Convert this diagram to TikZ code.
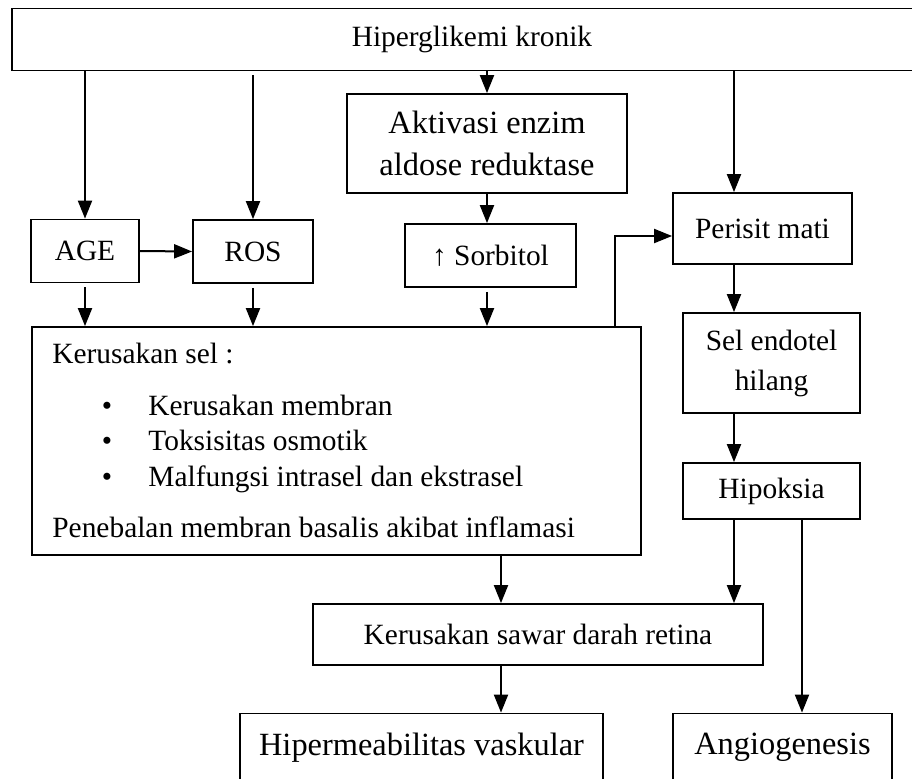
\documentclass[tikz,border=0pt]{standalone}
\usepackage{fontspec}
\setmainfont{Liberation Serif}
\usetikzlibrary{arrows.meta,positioning,calc}
\newcommand{\normaltxt}{\fontsize{14.7pt}{20pt}\selectfont}
\newcommand{\bigtxtfont}{\fontsize{16.2pt}{21pt}\selectfont}
\tikzset{
  box/.style={draw,line width=0.9pt,align=center,font=\normaltxt,inner sep=2pt},
  bigbox/.style={box,font=\bigtxtfont},
  flow/.style={-{Triangle[length=9pt,width=7pt]},line width=1pt},
  txt/.style={font=\normaltxt,inner sep=0pt,anchor=base west}
}

\begin{document}
\begin{tikzpicture}[x=0.5pt,y=-0.5pt]
\useasboundingbox (0,0) rectangle (912,778);
\clip (0,0) rectangle (912,778);

% boxes
\node[box,minimum width=460pt,minimum height=31pt] (hiper) at (472,39.5) {Hiperglikemi kronik};
\node[bigbox,minimum width=140pt,minimum height=49.5pt] (aktivasi) at (487,143.5) {Aktivasi enzim\\aldose reduktase};
\node[box,minimum width=54pt,minimum height=31.5pt] (age) at (85,251) {AGE};
\node[box,minimum width=60pt,minimum height=31.5pt] (ros) at (253,251.5) {ROS};
\node[box,minimum width=85.5pt,minimum height=31.5pt] (sorbitol) at (490.5,255.5) {↑ Sorbitol};
\node[box,minimum width=89.5pt,minimum height=35.5pt] (perisit) at (762.5,228.5) {Perisit mati};
\node[box,minimum width=304.5pt,minimum height=114pt] (kerusakan) at (336.5,441) {};
\node[box,minimum width=88.5pt,minimum height=50pt] (endotel) at (771.5,363) {Sel endotel\\hilang};
\node[box,minimum width=88.5pt,minimum height=28pt] (hipoksia) at (771.5,491) {Hipoksia};
\node[box,minimum width=225pt,minimum height=30.5pt] (sawar) at (538,634.5) {Kerusakan sawar darah retina};
\node[bigbox,minimum width=181.5pt,minimum height=34pt] (hiperm) at (421.5,747.5) {Hipermeabilitas vaskular};
\node[bigbox,minimum width=109.5pt,minimum height=34pt] (angio) at (782.5,747.5) {Angiogenesis};

% text inside the cell damage box
\node[txt] (selhead) at (52,363) {Kerusakan sel :};
\foreach \i/\yy/\t in {1/415/Kerusakan membran,2/450/Toksisitas osmotik,3/486/Malfungsi intrasel dan ekstrasel}{
  \node[txt,anchor=base] (bul\i) at (107,\yy) {\textbullet};
  \node[txt] (item\i) at (148,\yy) {\t};
}
\node[txt] (penebalan) at (52,537) {Penebalan membran basalis akibat inflamasi};

% columns
\coordinate (colB) at (501,0);
\coordinate (colD) at (734,0);
\coordinate (colE) at (802,0);
\coordinate (elbowstart) at (557,327);
\coordinate (elbowturn) at (615,236);

% arrows
\draw[flow] (hiper.south -| age) -- (age.north);
\draw[flow,shorten <=2pt] (hiper.south -| ros) -- (ros.north);
\draw[flow] (hiper.south -| aktivasi) -- (aktivasi.north);
\draw[flow] (hiper.south -| colD) -- (perisit.north -| colD);
\draw[flow] (age.east) -- (ros.west);
\draw[flow] (aktivasi.south) -- (aktivasi.south |- sorbitol.north);
\draw[flow,shorten <=2pt] (age.south) -- (age.south |- kerusakan.north);
\draw[flow,shorten <=2pt] (ros.south) -- (ros.south |- kerusakan.north);
\draw[flow,shorten <=2pt] (sorbitol.south -| aktivasi) -- (kerusakan.north -| aktivasi);
\draw[flow] (elbowstart) -| (elbowturn) -- (perisit.west |- elbowturn);
\draw[flow] (perisit.south -| colD) -- (endotel.north -| colD);
\draw[flow] (endotel.south -| colD) -- (hipoksia.north -| colD);
\draw[flow] (kerusakan.south -| colB) -- (sawar.north -| colB);
\draw[flow] (hipoksia.south -| colD) -- (sawar.north -| colD);
\draw[flow] (hipoksia.south -| colE) -- (angio.north -| colE);
\draw[flow] (sawar.south -| colB) -- (hiperm.north -| colB);
\end{tikzpicture}
\end{document}
